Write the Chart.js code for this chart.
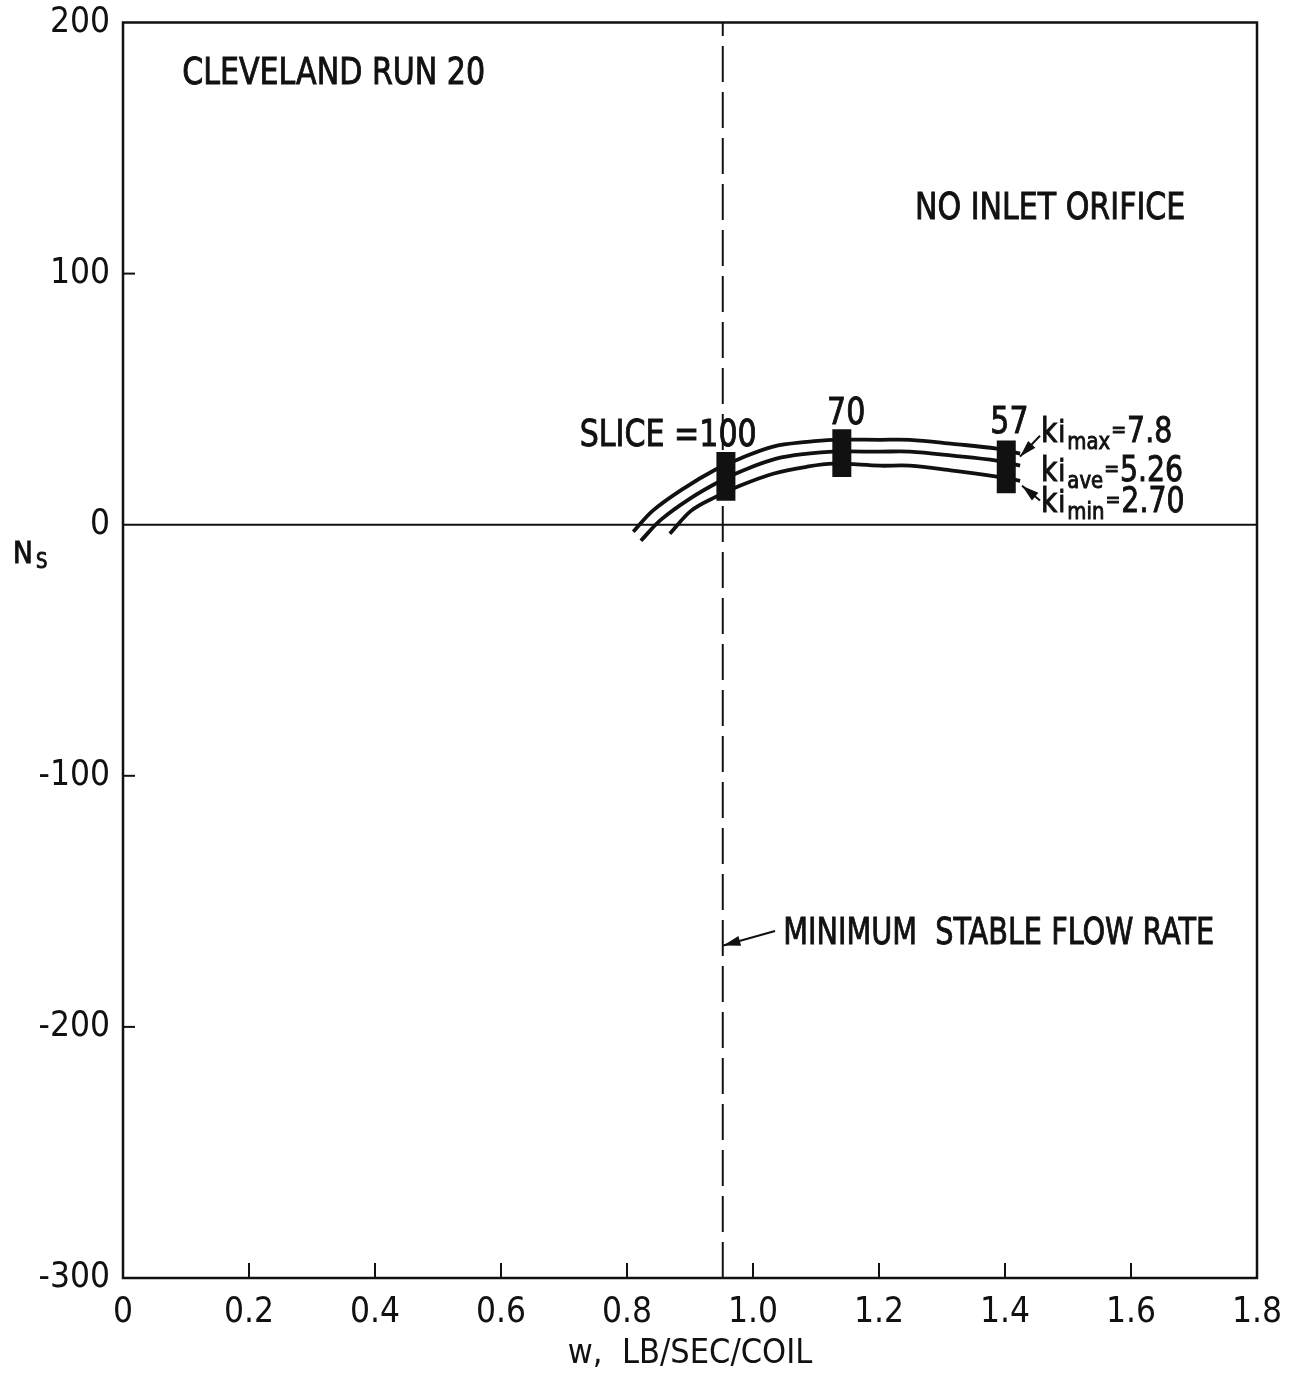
<!DOCTYPE html>
<html>
<head>
<meta charset="utf-8">
<script src="https://cdn.jsdelivr.net/npm/chart.js@4.4.1/dist/chart.umd.min.js"></script>
<style>
  html, body { margin: 0; padding: 0; background: #fff; }
</style>
</head>
<body>
<canvas id="nsChart" width="1291" height="1378"></canvas>
<script>
const FONT = "'DejaVu Sans Condensed', 'Liberation Sans Narrow', 'DejaVu Sans', sans-serif";
const INK = "#111";

// N_s against flow rate w (lb/sec/coil), one curve per ki value
const wKiMax = [0.810, 0.841, 0.889, 0.940, 0.979, 1.032, 1.086, 1.127, 1.202, 1.249, 1.317, 1.387, 1.424];
const nsKiMax = [-2.8, 5.6, 14.3, 21.9, 26.3, 31.1, 33.0, 33.8, 33.8, 33.8, 32.2, 30.3, 28.3];

const wKiAve = [0.822, 0.854, 0.900, 0.949, 0.987, 1.037, 1.087, 1.127, 1.202, 1.249, 1.317, 1.387, 1.424];
const nsKiAve = [-6.4, 2.0, 10.4, 17.5, 21.9, 26.3, 28.3, 29.1, 29.1, 29.1, 27.5, 25.5, 23.5];

const wKiMin = [0.868, 0.902, 0.940, 0.979, 1.032, 1.086, 1.127, 1.202, 1.249, 1.317, 1.387, 1.424];
const nsKiMin = [-3.6, 5.6, 11.0, 15.5, 20.3, 23.1, 24.3, 23.5, 23.5, 21.5, 19.1, 17.5];

// slice markers (black bars across the three curves)
const sliceW = [0.957, 1.141, 1.402];
const sliceLow = [9.5, 19.0, 12.5];
const sliceHigh = [29.0, 38.0, 33.5];
const sliceNames = ["SLICE =100", "70", "57"];

const kiSubs = ["max", "ave", "min"];
const kiValues = ["7.8", "5.26", "2.70"];

const minStableW = 0.952;

const xTicks = [0, 0.2, 0.4, 0.6, 0.8, 1.0, 1.2, 1.4, 1.6, 1.8];
const yTicks = [200, 100, 0, -100, -200, -300];

function pts(xs, ys) {
  return xs.map((x, i) => ({ x: x, y: ys[i] }));
}

function curve(label, xs, ys) {
  return {
    label: label,
    data: pts(xs, ys),
    showLine: true,
    pointRadius: 0,
    borderColor: INK,
    borderWidth: 3.8,
    tension: 0.35,
    fill: false,
    order: 2,
  };
}

const datasets = [
  curve("ki max", wKiMax, nsKiMax),
  curve("ki ave", wKiAve, nsKiAve),
  curve("ki min", wKiMin, nsKiMin),
  {
    label: "minimum stable flow rate",
    data: [{ x: minStableW, y: -300 }, { x: minStableW, y: 200 }],
    showLine: true,
    pointRadius: 0,
    borderColor: INK,
    borderWidth: 2,
    borderDash: [36, 10],
    order: 3,
  },
];

sliceW.forEach((w, i) => {
  datasets.push({
    label: sliceNames[i],
    data: [{ x: w, y: sliceLow[i] }, { x: w, y: sliceHigh[i] }],
    showLine: true,
    pointRadius: 0,
    borderColor: INK,
    borderWidth: 19,
    borderCapStyle: "butt",
    order: 1,
  });
});

function arrow(ctx, x1, y1, x2, y2) {
  const ang = Math.atan2(y2 - y1, x2 - x1);
  const c = Math.cos(ang), s = Math.sin(ang);
  ctx.beginPath();
  ctx.moveTo(x1, y1);
  ctx.lineTo(x2, y2);
  ctx.stroke();
  ctx.beginPath();
  ctx.moveTo(x2, y2);
  ctx.lineTo(x2 - 17 * c + 5 * s, y2 - 17 * s - 5 * c);
  ctx.lineTo(x2 - 17 * c - 5 * s, y2 - 17 * s + 5 * c);
  ctx.closePath();
  ctx.fill();
}

// lettering: tall narrow strokes, drawn slightly heavier than the plain font
function letter(ctx, str, px, py, size, align, sx) {
  ctx.save();
  ctx.font = size + "px " + FONT;
  ctx.textAlign = align || "left";
  ctx.translate(px, py);
  ctx.scale(sx || 0.88, 1);
  ctx.lineWidth = 0.9;
  ctx.fillText(str, 0, 0);
  ctx.strokeText(str, 0, 0);
  const w = ctx.measureText(str).width * (sx || 0.88);
  ctx.restore();
  return w;
}

const overlay = {
  id: "overlay",
  afterDatasetsDraw(chart) {
    const { ctx, chartArea: a, scales: { x, y } } = chart;
    ctx.save();
    ctx.strokeStyle = INK;
    ctx.fillStyle = INK;

    // frame
    ctx.lineWidth = 2.5;
    ctx.strokeRect(a.left, a.top, a.right - a.left, a.bottom - a.top);

    // zero line
    ctx.lineWidth = 2;
    const y0 = y.getPixelForValue(0);
    ctx.beginPath();
    ctx.moveTo(a.left, y0);
    ctx.lineTo(a.right, y0);
    ctx.stroke();

    // inward tick marks
    xTicks.slice(1, -1).forEach((v) => {
      const px = x.getPixelForValue(v);
      ctx.beginPath();
      ctx.moveTo(px, a.bottom);
      ctx.lineTo(px, a.bottom - 15);
      ctx.stroke();
    });
    [100, -100, -200].forEach((v) => {
      const py = y.getPixelForValue(v);
      ctx.beginPath();
      ctx.moveTo(a.left, py);
      ctx.lineTo(a.left + 12, py);
      ctx.stroke();
    });

    ctx.textBaseline = "alphabetic";
    const put = (str, w, n, align, sx) =>
      letter(ctx, str, x.getPixelForValue(w), y.getPixelForValue(n), 38, align, sx);

    put("CLEVELAND RUN 20", 0.094, 175.6);
    put("NO INLET ORIFICE", 1.257, 121.8);
    put(sliceNames[0], 0.725, 31.5);
    put(sliceNames[1], 1.148, 40.2, "center");
    put(sliceNames[2], 1.407, 36.6, "center");
    put("MINIMUM  STABLE FLOW RATE", 1.048, -166.8, "left", 0.84);

    // ki labels with subscripts
    const kiBase = [33.0, 17.5, 5.2];
    kiSubs.forEach((sub, i) => {
      let px = x.getPixelForValue(1.457);
      const py = y.getPixelForValue(kiBase[i]);
      px += letter(ctx, "k", px, py, 33, "left", 0.95) + 1;
      px += letter(ctx, "i", px, py, 30, "left", 0.95) + 2;
      px += letter(ctx, sub, px, py + 7, 23, "left", 0.95) + 1;
      px += letter(ctx, "=", px, py - 5, 22, "left", 0.9) + 1;
      letter(ctx, kiValues[i], px, py, 35, "left", 0.9);
    });

    // pointers
    ctx.lineWidth = 2;
    arrow(ctx, x.getPixelForValue(1.4556), y.getPixelForValue(35.4), x.getPixelForValue(1.4238), y.getPixelForValue(27.1));
    arrow(ctx, x.getPixelForValue(1.4556), y.getPixelForValue(9.6), x.getPixelForValue(1.427), y.getPixelForValue(15.5));
    arrow(ctx, x.getPixelForValue(1.035), y.getPixelForValue(-161.8), x.getPixelForValue(0.953), y.getPixelForValue(-167.6));

    // N_s axis label
    letter(ctx, "N", 13, 563, 31, "left", 0.95);
    letter(ctx, "S", 36, 568, 21, "left", 0.95);

    ctx.restore();
  },
};

const config = {
  type: "scatter",
  data: { datasets: datasets },
  options: {
    responsive: false,
    animation: false,
    devicePixelRatio: 1,
    layout: { padding: { top: 21, right: 34, left: 0, bottom: 0 } },
    plugins: { legend: { display: false }, tooltip: { enabled: false } },
    scales: {
      x: {
        type: "linear",
        min: 0,
        max: 1.8,
        afterBuildTicks: (s) => { s.ticks = xTicks.map((v) => ({ value: v })); },
        afterFit: (s) => { s.height = 100; },
        grid: { display: false },
        border: { display: false },
        ticks: {
          color: INK,
          padding: 6,
          font: { family: FONT, size: 35 },
          callback: (v) => (v === 0 ? "0" : v.toFixed(1)),
        },
        title: {
          display: true,
          text: "w,  LB/SEC/COIL",
          color: INK,
          font: { family: FONT, size: 34 },
          padding: { top: 0, bottom: 3 },
        },
      },
      y: {
        type: "linear",
        min: -300,
        max: 200,
        afterBuildTicks: (s) => { s.ticks = yTicks.map((v) => ({ value: v })); },
        afterFit: (s) => { s.width = 123; },
        grid: { display: false },
        border: { display: false },
        ticks: {
          color: INK,
          padding: 5,
          font: { family: FONT, size: 35, lineHeight: 1 },
        },
      },
    },
  },
  plugins: [overlay],
};

const nsChart = new Chart(document.getElementById("nsChart").getContext("2d"), config);
</script>
</body>
</html>
